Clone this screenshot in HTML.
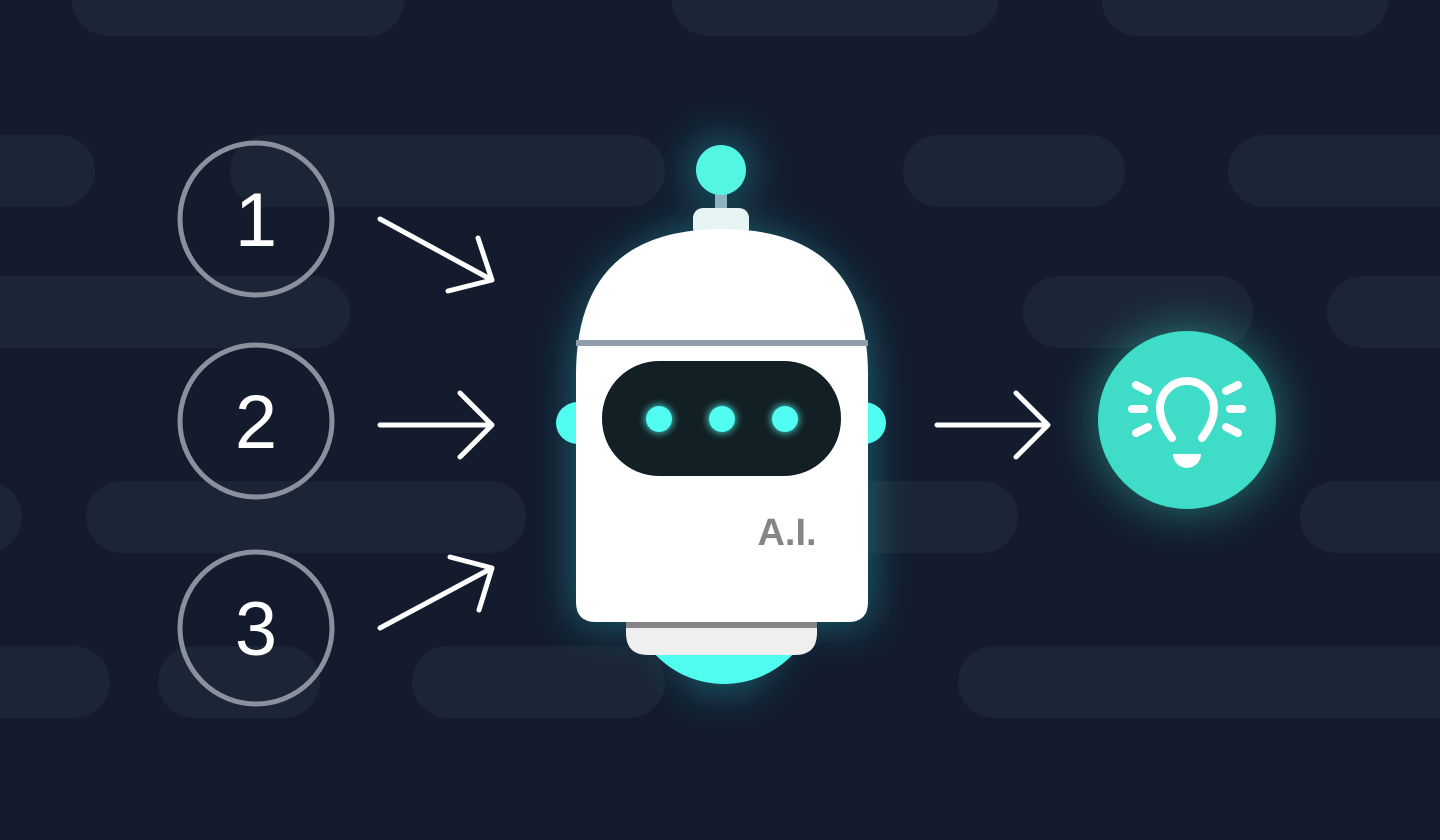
<!DOCTYPE html>
<html><head><style>
html,body{margin:0;padding:0;background:#131b2d;width:1440px;height:840px;overflow:hidden}
</style></head><body>
<svg width="1440" height="840" viewBox="0 0 1440 840" xmlns="http://www.w3.org/2000/svg">
<defs>
<filter id="glow" x="-50%" y="-50%" width="200%" height="200%"><feGaussianBlur stdDeviation="22"/></filter>
<filter id="sg" x="-100%" y="-100%" width="300%" height="300%"><feGaussianBlur stdDeviation="4"/></filter>
</defs>
<rect width="1440" height="840" fill="#131b2d"/>
<g fill="#1c2535">
<rect x="72" y="-36" width="332" height="72" rx="36"/>
<rect x="672" y="-36" width="326" height="72" rx="36"/>
<rect x="1102" y="-36" width="286" height="72" rx="36"/>
<rect x="-40" y="135" width="135" height="72" rx="36"/>
<rect x="230" y="135" width="435" height="72" rx="36"/>
<rect x="903" y="135" width="222" height="72" rx="36"/>
<rect x="1228" y="135" width="250" height="72" rx="36"/>
<rect x="-40" y="276" width="390" height="72" rx="36"/>
<rect x="1023" y="276" width="230" height="72" rx="36"/>
<rect x="1327" y="276" width="150" height="72" rx="36"/>
<rect x="-50" y="481" width="72" height="72" rx="36"/>
<rect x="86" y="481" width="440" height="72" rx="36"/>
<rect x="840" y="481" width="178" height="72" rx="36"/>
<rect x="1300" y="481" width="180" height="72" rx="36"/>
<rect x="-40" y="646" width="150" height="72" rx="36"/>
<rect x="158" y="646" width="162" height="72" rx="36"/>
<rect x="412" y="646" width="253" height="72" rx="36"/>
<rect x="958" y="646" width="520" height="72" rx="36"/>
</g>
<g fill="none" stroke="#8a909c" stroke-width="5">
<circle cx="256" cy="219" r="76"/><circle cx="256" cy="421" r="76"/><circle cx="256" cy="628" r="76"/>
</g>
<g fill="#fff" font-family="Liberation Sans, sans-serif" font-size="76" text-anchor="middle">
<text x="256" y="246">1</text><text x="256" y="448">2</text><text x="256" y="655">3</text>
</g>
<g stroke="#fff" stroke-width="5" stroke-linecap="round" stroke-linejoin="round" fill="none">
<path d="M380 219 L492 280 M448 291 L492 280 L478 238"/>
<path d="M380 425 L492 425 M460 393 L492 425 L460 457"/>
<path d="M380 628 L492 568 M450 557 L492 568 L479 610"/>
<path d="M937 425 L1048 425 M1016 393 L1048 425 L1016 457"/>
</g>
<g filter="url(#glow)" fill="#1c8c95" opacity="0.7">
<path d="M576 375 A146 146 0 0 1 868 375 L868 622 L576 622 Z"/>
<circle cx="721" cy="170" r="30"/>
<circle cx="724" cy="640" r="50"/>
</g>
<rect x="715" y="188" width="12" height="26" fill="#8fb3bd"/>
<circle cx="721" cy="170" r="25" fill="#55f5e3"/>
<rect x="693" y="208" width="56" height="30" rx="10" fill="#e6f4f4"/>
<circle cx="724" cy="589" r="95" fill="#50fdf0"/>
<path d="M626 612 L817 612 L817 633 Q817 655 795 655 L648 655 Q626 655 626 633 Z" fill="#efeff0"/>
<rect x="626" y="612" width="191" height="16" fill="#848586"/>
<ellipse cx="578" cy="423" rx="22" ry="21" fill="#50fdf0"/>
<ellipse cx="864" cy="423" rx="22" ry="21" fill="#50fdf0"/>
<path d="M576 375 Q576 229 722 229 Q868 229 868 375 L868 602 Q868 622 848 622 L596 622 Q576 622 576 602 Z" fill="#fff"/>
<rect x="576" y="340" width="292" height="6" fill="#919eab"/>
<rect x="602" y="361" width="239" height="115" rx="57" fill="#121f24"/>
<g fill="#50fdf0" filter="url(#sg)" opacity="0.8"><circle cx="659" cy="419" r="14"/><circle cx="722" cy="419" r="14"/><circle cx="785" cy="419" r="14"/></g>
<g fill="#50fdf0"><circle cx="659" cy="419" r="13"/><circle cx="722" cy="419" r="13"/><circle cx="785" cy="419" r="13"/></g>
<text x="787" y="545" font-family="Liberation Sans, sans-serif" font-weight="bold" font-size="38" fill="#858585" text-anchor="middle">A.I.</text>
<circle cx="1187" cy="420" r="92" fill="#2aa99a" filter="url(#glow)" opacity="0.6"/>
<circle cx="1187" cy="420" r="89" fill="#3fdcc8"/>
<g stroke="#fff" stroke-width="8" stroke-linecap="round" fill="none">
<path d="M1172 438 Q1160 422 1160 408 A27 27 0 0 1 1214 408 Q1214 422 1202 438"/>
<path d="M1136 385 L1148 391 M1132 409 L1144 409 M1136 433 L1148 427"/>
<path d="M1238 385 L1226 391 M1242 409 L1230 409 M1238 433 L1226 427"/>
</g>
<path d="M1173 454 L1201 454 A14 14 0 0 1 1173 454 Z" fill="#fff"/>
</svg>
</body></html>
